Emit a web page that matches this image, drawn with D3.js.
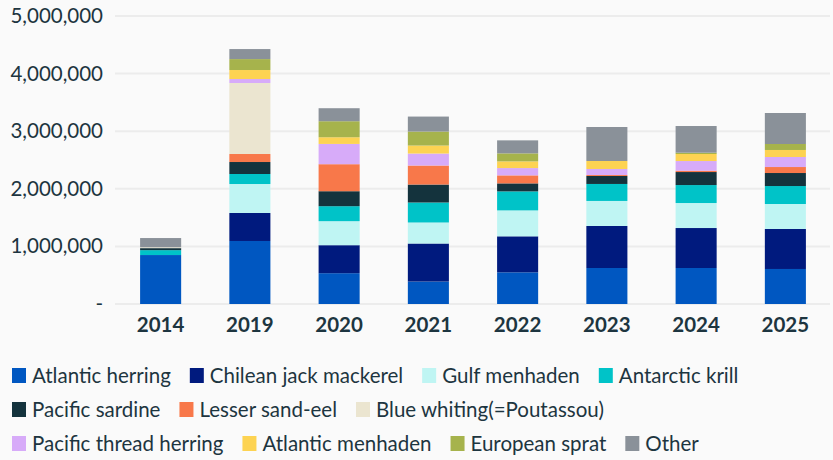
<!DOCTYPE html>
<html><head><meta charset="utf-8">
<script src="https://cdn.jsdelivr.net/npm/d3@7"></script>
<style>
html,body{margin:0;padding:0;background:#fafafa;}
svg{display:block;font-family:Lato,"Noto Sans",sans-serif;}
</style></head>
<body><svg id="chart" width="833" height="460"></svg>
<script>
const years = ["2014","2019","2020","2021","2022","2023","2024","2025"];
const species = ["Atlantic herring","Chilean jack mackerel","Gulf menhaden","Antarctic krill","Pacific sardine","Lesser sand-eel","Blue whiting(=Poutassou)","Pacific thread herring","Atlantic menhaden","European sprat","Other"];
const colors = ["#0057c1","#001a7e","#bff5f3","#00c3c8","#14333d","#f8784a","#ebe5d0","#d7abf9","#fdd352","#a6b34c","#8a9199"];
const atlanticHerring     = [850000,1094000,535000,390000,550000,625000,625000,608000];
const chileanJackMackerel = [0,486000,486000,660000,625000,730000,694000,694000];
const gulfMenhaden        = [0,503000,417000,365000,450000,434000,434000,434000];
const antarcticKrill      = [85000,174000,260000,347000,330000,295000,312000,312000];
const pacificSardine      = [35000,208000,260000,312000,139000,139000,226000,226000];
const lesserSandEel       = [0,139000,469000,330000,139000,17000,23000,104000];
const blueWhiting         = [15000,1233000,0,0,0,0,0,0];
const pacificThreadHerring= [0,69000,352000,208000,127000,104000,168000,174000];
const atlanticMenhaden    = [0,156000,116000,139000,116000,139000,122000,122000];
const europeanSprat       = [0,190000,278000,243000,139000,0,23000,104000];
const other               = [160000,174000,226000,260000,226000,590000,463000,538000];
const yTicks = [0,1000000,2000000,3000000,4000000,5000000];

const seriesValues = [atlanticHerring,chileanJackMackerel,gulfMenhaden,antarcticKrill,pacificSardine,lesserSandEel,blueWhiting,pacificThreadHerring,atlanticMenhaden,europeanSprat,other];
const rows = years.map((y,i)=>{const r={year:y}; species.forEach((s,j)=>r[s]=seriesValues[j][i]); return r;});

const svg = d3.select("#chart");
const textColor = "#1d3540";
const fontSize = "20.5px";
const x = d3.scaleBand().domain(years).range([116,830]).paddingInner(0.54).paddingOuter(0.27);
const y = d3.scaleLinear().domain([0,5000000]).range([304,16]);

// gridlines
svg.append("g").selectAll("line").data(yTicks).join("line")
  .attr("x1",115).attr("x2",830).attr("y1",d=>y(d)).attr("y2",d=>y(d))
  .attr("stroke","#ececec").attr("stroke-width",2);

// y axis labels
const fmt = d3.format(",");
const yAxis = d3.axisLeft(y).tickValues(yTicks).tickSize(0).tickPadding(0).tickFormat(d=>d===0?"-":fmt(d));
const gy = svg.append("g").attr("transform","translate(103,0)").call(yAxis);
gy.select(".domain").remove();
gy.selectAll("text").attr("fill",textColor).style("font-size",fontSize).style("font-family","Lato,'Noto Sans',sans-serif");

// bars
const stack = d3.stack().keys(species)(rows);
svg.append("g").selectAll("g").data(stack).join("g")
  .attr("fill",(d,i)=>colors[i])
  .selectAll("rect").data(d=>d).join("rect")
  .attr("x",d=>x(d.data.year)).attr("width",x.bandwidth())
  .attr("y",d=>y(d[1])).attr("height",d=>Math.max(0,y(d[0])-y(d[1])));

// x axis
const xAxis = d3.axisBottom(x).tickSize(0).tickPadding(0);
const gx = svg.append("g").attr("transform","translate(0,317)").call(xAxis);
gx.select(".domain").remove();
gx.selectAll("text").attr("fill",textColor).attr("dy","0.71em").style("font-size",fontSize).style("font-weight","700").style("font-family","Lato,'Noto Sans',sans-serif");

// legend
const legendRows = [[0,1,2,3],[4,5,6],[7,8,9,10]];
const leg = svg.append("g");
legendRows.forEach((row,ri)=>{
  let cx = 12;
  const by = 383 + ri*34;
  row.forEach(idx=>{
    leg.append("rect").attr("x",cx).attr("y",by-15).attr("width",14).attr("height",15).attr("fill",colors[idx]);
    const t = leg.append("text").attr("x",cx+20).attr("y",by).attr("fill",textColor)
      .style("font-size",fontSize).text(species[idx]);
    cx += 20 + t.node().getComputedTextLength() + 19;
  });
});
</script></body></html>
